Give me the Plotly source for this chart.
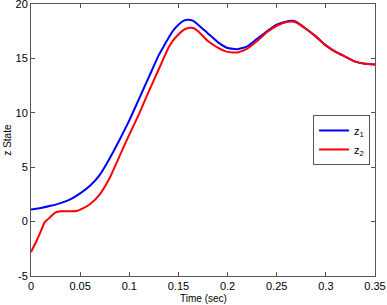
import plotly.graph_objects as go

t_z1 = [0.0, 0.01, 0.02, 0.03, 0.04, 0.05, 0.06, 0.07, 0.08, 0.09, 0.10, 0.11, 0.12, 0.13,
        0.135, 0.14, 0.145, 0.15, 0.155, 0.16, 0.165, 0.17, 0.18, 0.19, 0.20, 0.21, 0.22,
        0.23, 0.24, 0.25, 0.26, 0.265, 0.27, 0.28, 0.29, 0.30, 0.31, 0.32, 0.33, 0.34, 0.35]
z1 = [1.1, 1.25, 1.45, 1.7, 2.05, 2.6, 3.3, 4.3, 5.8, 7.5, 9.3, 11.3, 13.3, 15.3,
      16.1, 16.9, 17.6, 18.1, 18.45, 18.55, 18.45, 18.1, 17.3, 16.5, 15.95, 15.85, 16.1,
      16.8, 17.5, 18.1, 18.4, 18.45, 18.35, 17.7, 17.0, 16.2, 15.6, 15.15, 14.7, 14.5, 14.45]

t_z2 = [0.0, 0.005, 0.01, 0.014, 0.02, 0.025, 0.03, 0.04, 0.046, 0.05, 0.06, 0.07,
        0.08, 0.09, 0.10, 0.11, 0.12, 0.13, 0.14, 0.145, 0.15, 0.155, 0.16, 0.165, 0.17,
        0.18, 0.19, 0.20, 0.21, 0.22, 0.23, 0.24, 0.25, 0.26, 0.265, 0.27, 0.28, 0.29,
        0.30, 0.31, 0.32, 0.33, 0.34, 0.35]
z2 = [-2.8, -1.9, -0.9, -0.05, 0.45, 0.85, 0.95, 0.95, 0.97, 1.1, 1.6, 2.5,
      4.0, 6.0, 8.0, 9.9, 12.0, 14.0, 16.0, 16.7, 17.2, 17.6, 17.8, 17.8, 17.5,
      16.6, 16.0, 15.6, 15.55, 15.9, 16.6, 17.4, 18.0, 18.35, 18.4, 18.3, 17.7, 17.0,
      16.2, 15.6, 15.15, 14.7, 14.5, 14.45]

x_ticks = [0, 0.05, 0.1, 0.15, 0.2, 0.25, 0.3, 0.35]
x_tick_labels = ["0", "0.05", "0.1", "0.15", "0.2", "0.25", "0.3", "0.35"]
y_ticks = [-5, 0, 5, 10, 15, 20]
y_tick_labels = ["-5", "0", "5", "10", "15", "20"]

FONT = "Liberation Sans, Arial, Helvetica, sans-serif"

fig = go.Figure()
fig.add_trace(go.Scatter(x=t_z1, y=z1, mode="lines", name="z<sub>1</sub>",
                         line=dict(color="#0000ff", width=2, shape="spline", smoothing=0.5)))
fig.add_trace(go.Scatter(x=t_z2, y=z2, mode="lines", name="z<sub>2</sub>",
                         line=dict(color="#ff0000", width=2, shape="spline", smoothing=0.5)))

axis_common = dict(showgrid=False, zeroline=False, showline=True, linecolor="#555555",
                   linewidth=1, mirror="ticks", ticks="inside", ticklen=4,
                   tickcolor="#555555", automargin=False, ticklabeloverflow="allow",
                   tickfont=dict(family=FONT, size=11, color="#000000"))

fig.update_layout(
    width=387, height=305,
    margin=dict(l=31, r=12, t=4, b=29),
    paper_bgcolor="white", plot_bgcolor="white",
    font=dict(family=FONT, size=11, color="#000000"),
    xaxis=dict(range=[0, 0.35], tickvals=x_ticks, ticktext=x_tick_labels, **axis_common),
    yaxis=dict(range=[-5, 20], tickvals=y_ticks, ticktext=y_tick_labels, **axis_common),
    legend=dict(x=0.82, y=0.592, xanchor="left", yanchor="top",
                bgcolor="white", bordercolor="#555555", borderwidth=1,
                font=dict(family=FONT, size=11), tracegroupgap=0, itemwidth=30),
    showlegend=True,
    annotations=[
        dict(text="Time (sec)", xref="paper", yref="paper", x=0.5, y=-0.055,
             xanchor="center", yanchor="top", showarrow=False, font=dict(family=FONT, size=10)),
        dict(text="z State", xref="paper", yref="paper", x=-0.049, y=0.5, textangle=-90,
             xanchor="right", yanchor="middle", showarrow=False, font=dict(family=FONT, size=10)),
    ],
)

fig.write_html("out.html", config={"displayModeBar": False},
               post_script="document.body.style.margin='0px';")
